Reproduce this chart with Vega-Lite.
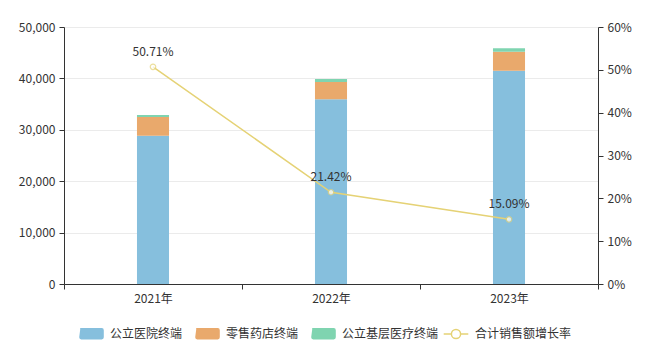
{
  "$schema": "https://vega.github.io/schema/vega-lite/v6.json",
  "width": 534,
  "height": 257,
  "autosize": {"type": "none"},
  "padding": {"left": 64, "top": 27, "right": 51, "bottom": 74},
  "background": "white",
  "config": {
    "font": "Noto Sans CJK SC",
    "view": {"stroke": null},
    "axis": {"labelFont": "Noto Sans CJK SC", "labelFontSize": 12, "labelColor": "#333", "domainColor": "#333", "tickColor": "#333", "titleFontSize": 12},
    "legend": {"labelFont": "Noto Sans CJK SC", "labelFontSize": 12, "labelColor": "#333"}
  },
  "datasets": {
    "bars": [
      {"year": "2021年", "type": "公立医院终端", "order": 1, "value": 28850},
      {"year": "2021年", "type": "零售药店终端", "order": 2, "value": 3650},
      {"year": "2021年", "type": "公立基层医疗终端", "order": 3, "value": 400},
      {"year": "2022年", "type": "公立医院终端", "order": 1, "value": 35930},
      {"year": "2022年", "type": "零售药店终端", "order": 2, "value": 3370},
      {"year": "2022年", "type": "公立基层医疗终端", "order": 3, "value": 580},
      {"year": "2023年", "type": "公立医院终端", "order": 1, "value": 41500},
      {"year": "2023年", "type": "零售药店终端", "order": 2, "value": 3700},
      {"year": "2023年", "type": "公立基层医疗终端", "order": 3, "value": 660}
    ],
    "rate": [
      {"year": "2021年", "series": "合计销售额增长率", "rate": 0.5071, "label": "50.71%"},
      {"year": "2022年", "series": "合计销售额增长率", "rate": 0.2142, "label": "21.42%"},
      {"year": "2023年", "series": "合计销售额增长率", "rate": 0.1509, "label": "15.09%"}
    ]
  },
  "encoding": {
    "x": {
      "field": "year", "type": "nominal", "title": null, "sort": null,
      "scale": {"paddingInner": 0, "paddingOuter": 0},
      "axis": {"labelAngle": 0, "tickBand": "extent", "tickSize": 5, "labelPadding": 4, "domainColor": "#333", "grid": false}
    }
  },
  "layer": [
    {
      "data": {"name": "bars"},
      "mark": {"type": "bar", "width": {"band": 0.18}},
      "encoding": {
        "y": {
          "field": "value", "type": "quantitative", "stack": "zero", "title": null,
          "scale": {"domain": [0, 50000], "nice": false},
          "axis": {"values": [0, 10000, 20000, 30000, 40000, 50000], "format": ",.0f", "tickSize": 5, "grid": true, "gridColor": "#ebebeb", "domain": true, "labelPadding": 4}
        },
        "color": {
          "field": "type", "type": "nominal",
          "scale": {"domain": ["公立医院终端", "零售药店终端", "公立基层医疗终端"], "range": ["#86bfdd", "#e9a96c", "#7fd4b0"]},
          "legend": {
            "title": null, "orient": "none", "direction": "horizontal", "legendX": 17, "legendY": 296,
            "symbolType": "M-1.1,-0.45 Q-1.2,-0.55 -1,-0.55 L1,-0.55 Q1.2,-0.55 1.2,-0.35 L1.2,0.35 Q1.2,0.55 1,0.55 L-1,0.55 Q-1.2,0.55 -1.2,0.35 Z",
            "symbolSize": 420, "symbolStrokeWidth": 0, "labelOffset": 8, "columnPadding": 12
          }
        },
        "order": {"field": "order", "type": "quantitative"}
      }
    },
    {
      "data": {"name": "rate"},
      "mark": {"type": "line", "color": "#e5d275", "strokeWidth": 1.5},
      "encoding": {
        "y": {
          "field": "rate", "type": "quantitative", "title": null,
          "scale": {"domain": [0, 0.6], "nice": false},
          "axis": {"orient": "right", "values": [0, 0.1, 0.2, 0.3, 0.4, 0.5, 0.6], "format": ".0%", "tickSize": 5, "grid": false, "labelPadding": 4}
        },
        "stroke": {
          "field": "series", "type": "nominal",
          "scale": {"range": ["#e5d275"]},
          "legend": {
            "title": null, "orient": "none", "legendX": 381, "legendY": 296,
            "symbolType": "M-1.2,0 L-0.45,0 M0.45,0 L1.2,0 M0.45,0 A0.45,0.45 0 1,1 -0.45,0 A0.45,0.45 0 1,1 0.45,0",
            "symbolSize": 420, "symbolStrokeWidth": 1.5, "symbolFillColor": "white", "labelOffset": 8
          }
        }
      }
    },
    {
      "data": {"name": "rate"},
      "mark": {"type": "point", "shape": "circle", "filled": true, "fill": "white", "stroke": "#e5d275", "strokeWidth": 1.2, "size": 30},
      "encoding": {
        "y": {"field": "rate", "type": "quantitative", "scale": {"domain": [0, 0.6], "nice": false}, "axis": null}
      }
    },
    {
      "data": {"name": "rate"},
      "mark": {"type": "text", "dy": -15, "fontSize": 12, "color": "#333", "font": "Noto Sans CJK SC"},
      "encoding": {
        "y": {"field": "rate", "type": "quantitative", "scale": {"domain": [0, 0.6], "nice": false}, "axis": null},
        "text": {"field": "label"}
      }
    }
  ],
  "resolve": {"scale": {"y": "independent"}}
}
